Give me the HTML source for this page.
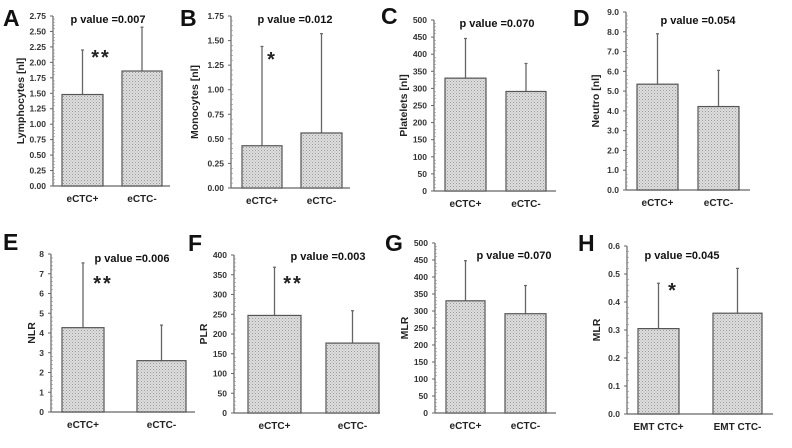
<!DOCTYPE html>
<html><head><meta charset="utf-8">
<style>
html,body{margin:0;padding:0;background:#fff;}
svg{display:block;font-family:"Liberation Sans",Arial,sans-serif;font-weight:bold;}
</style></head>
<body>
<svg id="chart" width="792" height="448" viewBox="0 0 792 448" xmlns="http://www.w3.org/2000/svg">
<defs>
<pattern id="dots" width="3" height="3" patternUnits="userSpaceOnUse">
<rect width="3" height="3" fill="#dedede"/>
<rect x="0" y="0" width="1" height="1" fill="#999"/>
<rect x="1.5" y="1.5" width="1" height="1" fill="#b0b0b0"/>
</pattern>
</defs>
</svg>
<script>
// ---- data ----
const panelLetters = ["A","B","C","D","E","F","G","H"];
const yTitles = ["Lymphocytes [nl]","Monocytes [nl]","Platelets [nl]","Neutro [nl]","NLR","PLR","MLR","MLR"];
const pValues = ["p value =0.007","p value =0.012","p value =0.070","p value =0.054","p value =0.006","p value =0.003","p value =0.070","p value =0.045"];
const significance = ["**","*","","","**","**","","*"];
const categoriesStd = ["eCTC+","eCTC-"];
const categoriesEmt = ["EMT CTC+","EMT CTC-"];
const meansPos = [1.48, 0.43, 330, 5.35, 4.27, 247, 330, 0.305];
const meansNeg = [1.86, 0.56, 291, 4.22, 2.6, 177, 292, 0.36];
const upperPos = [2.2, 1.44, 446, 7.9, 7.55, 369, 448, 0.467];
const upperNeg = [2.57, 1.57, 373, 6.05, 4.4, 259, 375, 0.52];
const yMaxes = [2.75, 1.75, 500, 9, 8, 400, 500, 0.6];
const yStepsArr = [0.25, 0.25, 50, 1, 1, 50, 50, 0.1];
const yDecimals = [2, 2, 0, 1, 0, 0, 0, 1];

// ---- layout (positions, not data) ----
const layout = [
 {ax:53, top:16, bot:186, b1:[62,103], b2:[122,162], end:170, L:[3,26], P:[108,23], S:[101,64], T:24},
 {ax:231, top:16, bot:188, b1:[242,282], b2:[301,342], end:350, L:[180,26], P:[295,23], S:[272,66], T:198},
 {ax:434, top:20, bot:191, b1:[445,486], b2:[506,546], end:556, L:[381,24], P:[497,27], S:[0,0], T:407},
 {ax:626, top:12, bot:190, b1:[637,678], b2:[698,739], end:750, L:[573,26], P:[698,24], S:[0,0], T:599},
 {ax:51, top:254, bot:412, b1:[62,104], b2:[137,186], end:195, L:[3,250], P:[132,262], S:[103,290], T:35},
 {ax:234, top:255, bot:413, b1:[248,301], b2:[326,379], end:380, L:[188,251], P:[328,260], S:[293,290], T:207},
 {ax:435, top:243, bot:413, b1:[446,485], b2:[505,546], end:556, L:[385,251], P:[514,259], S:[0,0], T:408},
 {ax:627, top:246, bot:414, b1:[638,679], b2:[713,762], end:773, L:[578,251], P:[682,259], S:[673,297], T:600}
];

const svg = document.getElementById('chart');
const NS = "http://www.w3.org/2000/svg";
function mk(tag, attrs, parent){
  const e = document.createElementNS(NS, tag);
  for (const k in attrs) e.setAttribute(k, attrs[k]);
  (parent||svg).appendChild(e);
  return e;
}

for (let i = 0; i < 8; i++) {
  const c = layout[i];
  const yScale = v => c.bot - (v / yMaxes[i]) * (c.bot - c.top);
  const g = mk('g', {});
  
  

  const letter = mk('text', {x:c.L[0], y:c.L[1], 'font-size':23, fill:'#111'}, g);
  letter.textContent = panelLetters[i];
  
  

  const axis = mk('line', {x1:c.ax, y1:c.top, x2:c.ax, y2:c.bot, stroke:'#666', 'stroke-width':1.2}, g);
  
  
  const base = mk('line', {x1:c.ax, y1:c.bot, x2:c.end, y2:c.bot, stroke:'#666', 'stroke-width':1.2}, g);
  
  

  const nT = Math.round(yMaxes[i] / yStepsArr[i]);
  for (let t = 0; t <= nT; t++) {
    const v = t * yStepsArr[i];
    const y = yScale(v);
    mk('line', {x1:c.ax-3, y1:y, x2:c.ax, y2:y, stroke:'#666', 'stroke-width':1}, g);
    if (t < nT) {
      for (let m = 1; m < 5; m++) {
        const ym = yScale(v + m * yStepsArr[i] / 5);
        mk('line', {x1:c.ax, y1:ym, x2:c.ax+2, y2:ym, stroke:'#888', 'stroke-width':0.6}, g);
      }
    }
    const tl = mk('text', {x:c.ax-7, y:y+3, 'font-size':8.5, 'text-anchor':'end', fill:'#333'}, g);
    tl.textContent = v.toFixed(yDecimals[i]);
    
    
  }

  const yt = mk('text', {x:0, y:0, 'font-size':10.5, 'text-anchor':'middle', fill:'#222',
    transform:'translate(' + c.T + ',' + ((c.top + c.bot) / 2) + ') rotate(-90)'}, g);
  yt.textContent = yTitles[i];
  
  

  const cats = i === 7 ? categoriesEmt : categoriesStd;
  const bars = [[c.b1, meansPos[i], upperPos[i]], [c.b2, meansNeg[i], upperNeg[i]]];
  bars.forEach((b, j) => {
    const x0 = b[0][0], x1 = b[0][1], mid = (x0 + x1) / 2;
    const yv = yScale(b[1]), yu = yScale(b[2]);
    const err = mk('line', {x1:mid, y1:yu, x2:mid, y2:yv, stroke:'#666', 'stroke-width':1.3}, g);
    
    
    mk('line', {x1:mid-1.5, y1:yu, x2:mid+1.5, y2:yu, stroke:'#666', 'stroke-width':1.2}, g);
    const r = mk('rect', {x:x0, y:yv, width:x1-x0, height:c.bot-yv, fill:'url(#dots)', stroke:'#555', 'stroke-width':1.2}, g);
    
    
    const cl = mk('text', {x:mid, y:c.bot + 16, 'font-size':10, 'text-anchor':'middle', fill:'#222'}, g);
    cl.textContent = cats[j];
    
    
  });

  const pv = mk('text', {x:c.P[0], y:c.P[1], 'font-size':11, 'text-anchor':'middle', fill:'#111'}, g);
  pv.textContent = pValues[i];
  
  

  if (significance[i]) {
    const s = mk('text', {x:c.S[0], y:c.S[1], 'font-size':20, 'text-anchor':'middle', fill:'#222', 'letter-spacing':'2'}, g);
    s.textContent = significance[i];
    
    
  }
}
</script>
</body></html>
